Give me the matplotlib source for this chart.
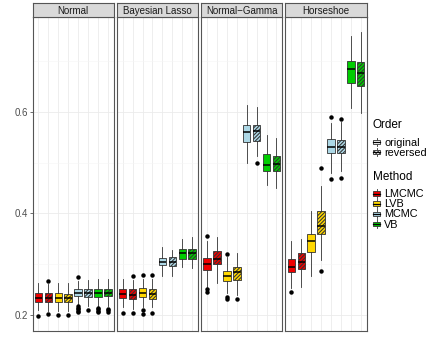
import matplotlib
matplotlib.use('Agg')
import matplotlib.pyplot as plt
from matplotlib.patches import Rectangle, Patch
from matplotlib.lines import Line2D
from matplotlib.legend_handler import HandlerBase
from matplotlib.ticker import FixedLocator

plt.rcParams['font.family'] = ['Liberation Sans', 'DejaVu Sans']
plt.rcParams['hatch.linewidth'] = 0.75

priors = ['Normal', 'Bayesian Lasso', 'Normal\u2212Gamma', 'Horseshoe']
methods = ['LMCMC', 'LVB', 'MCMC', 'VB']
orders = ['original', 'reversed']
method_colors = ['#EE0000', '#FFD700', '#ADD8E6', '#00CD00']
order_hatches = [None, '/////////']
y_ticks = [0.2, 0.4, 0.6]

# box order inside each panel: LMCMC orig, LMCMC rev, LVB orig, LVB rev, MCMC orig, MCMC rev, VB orig, VB rev
whisker_high = [
    [0.262, 0.260, 0.263, 0.263, 0.267, 0.269, 0.271, 0.271],
    [0.271, 0.269, 0.270, 0.270, 0.333, 0.328, 0.349, 0.353],
    [0.345, 0.353, 0.314, 0.322, 0.613, 0.609, 0.555, 0.548],
    [0.345, 0.350, 0.404, 0.453, 0.578, 0.579, 0.750, 0.758],
]
q3 = [
    [0.243, 0.243, 0.2425, 0.241, 0.251, 0.251, 0.251, 0.251],
    [0.251, 0.251, 0.253, 0.252, 0.312, 0.314, 0.330, 0.330],
    [0.312, 0.326, 0.287, 0.294, 0.574, 0.574, 0.517, 0.513],
    [0.310, 0.322, 0.359, 0.405, 0.546, 0.545, 0.700, 0.698],
]
median = [
    [0.234, 0.233, 0.233, 0.233, 0.244, 0.243, 0.243, 0.244],
    [0.241, 0.240, 0.244, 0.241, 0.305, 0.305, 0.321, 0.322],
    [0.300, 0.310, 0.276, 0.284, 0.561, 0.562, 0.496, 0.497],
    [0.294, 0.305, 0.345, 0.376, 0.530, 0.530, 0.685, 0.677],
]
q1 = [
    [0.226, 0.226, 0.226, 0.225, 0.237, 0.235, 0.235, 0.237],
    [0.233, 0.231, 0.235, 0.231, 0.298, 0.297, 0.310, 0.310],
    [0.288, 0.300, 0.266, 0.269, 0.541, 0.543, 0.484, 0.484],
    [0.284, 0.290, 0.323, 0.359, 0.518, 0.518, 0.657, 0.651],
]
whisker_low = [
    [0.210, 0.207, 0.207, 0.207, 0.220, 0.217, 0.218, 0.217],
    [0.215, 0.212, 0.216, 0.215, 0.276, 0.277, 0.294, 0.292],
    [0.254, 0.263, 0.243, 0.240, 0.499, 0.513, 0.456, 0.450],
    [0.253, 0.255, 0.276, 0.309, 0.479, 0.484, 0.607, 0.597],
]
outliers = [
    [[0.197], [0.266, 0.202], [0.199], [0.199], [0.275, 0.217, 0.214, 0.211, 0.208, 0.205],
     [0.210], [0.214, 0.211, 0.208, 0.205], [0.212, 0.209, 0.206]],
    [[0.203], [0.277, 0.204], [0.279, 0.210, 0.201], [0.279, 0.203], [], [], [], []],
    [[0.356, 0.251, 0.245], [], [0.320, 0.236, 0.232], [0.231], [], [0.499], [], []],
    [[0.245], [], [], [0.489, 0.286], [0.589, 0.467], [0.585, 0.470], [], []],
]

EDGE = '#333333'
W, H = 436, 349
fig = plt.figure(figsize=(W / 100, H / 100), dpi=100)

panel_left = 32.5
panel_w = 81.3
gap = 3.0
panel_bottom = 330.7
panel_top = 17.3
strip_top = 3.3

for p, prior in enumerate(priors):
    x0 = panel_left + p * (panel_w + gap)
    ax = fig.add_axes([x0 / W, 1 - panel_bottom / H, panel_w / W, (panel_bottom - panel_top) / H])
    stats = []
    for i in range(8):
        stats.append(dict(med=median[p][i], q1=q1[p][i], q3=q3[p][i],
                          whislo=whisker_low[p][i], whishi=whisker_high[p][i],
                          fliers=outliers[p][i]))
    bp = ax.bxp(stats, positions=list(range(1, 9)), widths=0.75, patch_artist=True,
                showcaps=False,
                boxprops=dict(edgecolor=EDGE, linewidth=0.6),
                whiskerprops=dict(color=EDGE, linewidth=0.6),
                medianprops=dict(color='black', linewidth=1.1),
                flierprops=dict(marker='o', markersize=2.2, markerfacecolor='black',
                                markeredgecolor='black', linestyle='none'),
                zorder=3)
    for i, box in enumerate(bp['boxes']):
        box.set_facecolor(method_colors[i // 2])
        h = order_hatches[i % 2]
        if h:
            box.set_hatch(h)
    ax.set_xlim(0.4, 8.6)
    ax.set_ylim(0.169, 0.786)
    ax.yaxis.set_major_locator(FixedLocator(y_ticks))
    ax.yaxis.set_minor_locator(FixedLocator([0.3, 0.5, 0.7]))
    ax.xaxis.set_major_locator(FixedLocator(list(range(1, 9))))
    ax.grid(True, which='major', color='#EBEBEB', linewidth=0.6, zorder=0)
    ax.grid(True, which='minor', axis='y', color='#F5F5F5', linewidth=0.4, zorder=0)
    ax.set_axisbelow(True)
    ax.tick_params(axis='x', length=0, labelbottom=False)
    ax.tick_params(axis='y', which='minor', length=0)
    if p == 0:
        ax.tick_params(axis='y', which='major', length=2.5, width=0.5, color=EDGE,
                       labelsize=7, labelcolor='#4D4D4D', pad=1.0)
        ax.set_yticklabels([f'{t:.1f}' for t in y_ticks])
    else:
        ax.tick_params(axis='y', which='major', length=0, labelleft=False)
    for s in ax.spines.values():
        s.set_color('#555555')
        s.set_linewidth(0.8)
    # strip
    sax = fig.add_axes([x0 / W, 1 - panel_top / H, panel_w / W, (panel_top - strip_top) / H])
    sax.set_facecolor('#D9D9D9')
    sax.set_xticks([])
    sax.set_yticks([])
    for s in sax.spines.values():
        s.set_color('#555555')
        s.set_linewidth(0.8)
    sax.text(0.5, 0.45, prior, ha='center', va='center', fontsize=7, color='#1A1A1A',
             transform=sax.transAxes)


class BoxKey(HandlerBase):
    def create_artists(self, legend, orig_handle, xdescent, ydescent, width, height,
                       fontsize, trans):
        x0, y0 = -xdescent, -ydescent
        cx = x0 + width / 2
        arts = [
            Line2D([cx, cx], [y0, y0 + height * 0.25], color=EDGE, lw=0.6, transform=trans),
            Line2D([cx, cx], [y0 + height * 0.75, y0 + height], color=EDGE, lw=0.6, transform=trans),
        ]
        r = Rectangle((x0 + width * 0.1, y0 + height * 0.25), width * 0.8, height * 0.5,
                      facecolor=orig_handle.get_facecolor(), edgecolor=EDGE, lw=0.6,
                      hatch=orig_handle.get_hatch(), transform=trans)
        arts.append(r)
        arts.append(Line2D([x0 + width * 0.1, x0 + width * 0.9], [y0 + height / 2] * 2,
                           color='black', lw=0.9, transform=trans))
        return arts


order_handles = [Patch(facecolor='white', hatch=h) for h in order_hatches]
method_handles = [Patch(facecolor=c) for c in method_colors]

common = dict(loc='upper left', frameon=False, fontsize=7.8, title_fontsize=8.5,
              handler_map={Patch: BoxKey()}, handlelength=0.75, handleheight=0.85,
              labelspacing=0.0, handletextpad=0.35, borderpad=0, borderaxespad=0)
leg1 = fig.legend(order_handles, orders, title='Order',
                  bbox_to_anchor=(372.5 / W, 1 - 119.5 / H), **common)
leg1._legend_box.align = 'left'
leg1._legend_box.sep = 4.5
leg2 = fig.legend(method_handles, methods, title='Method',
                  bbox_to_anchor=(372.5 / W, 1 - 171 / H), **common)
leg2._legend_box.align = 'left'
leg2._legend_box.sep = 4.5

fig.savefig('out.png', dpi=100)
